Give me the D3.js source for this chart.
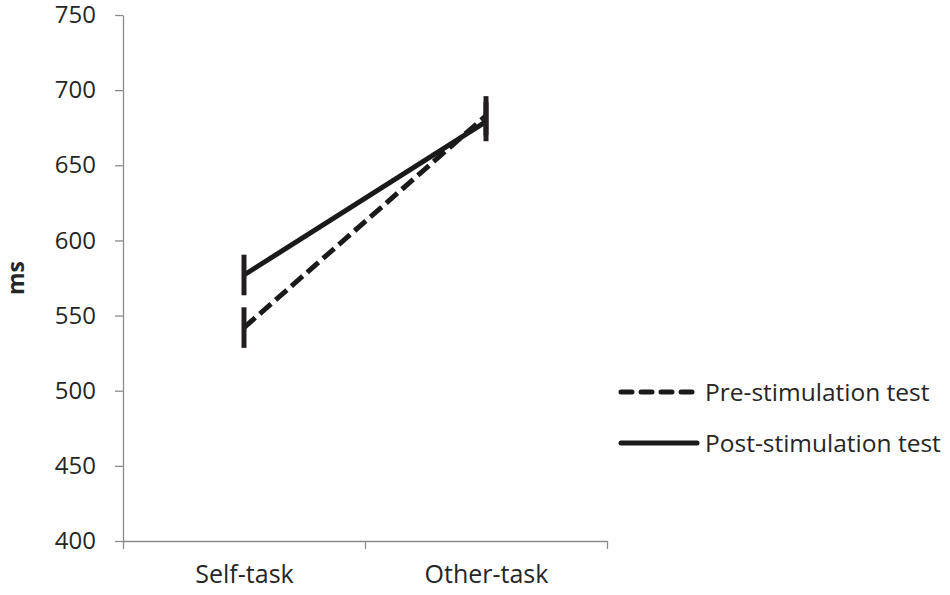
<!DOCTYPE html>
<html>
<head>
<meta charset="utf-8">
<script src="https://cdn.jsdelivr.net/npm/d3@7"></script>
<style>
  html, body { margin: 0; padding: 0; background: #fff; overflow: hidden; }
  svg { display: block; }
  text { font-family: "Open Sans", sans-serif; fill: #262626; }
</style>
</head>
<body>
<div id="svg-container"></div>
<script>
// Data
const tasks = ["Self-task", "Other-task"];
const seriesNames = ["Pre-stimulation test", "Post-stimulation test"];
const preValues = [542, 683];
const postValues = [577, 679];
const preErrors = [13.5, 13];
const postErrors = [13.5, 13];
const yTicks = [400, 450, 500, 550, 600, 650, 700, 750];

const width = 950;
const height = 595;
const margins = { top: 15, right: 343, bottom: 54, left: 123 };
const innerWidth = width - margins.left - margins.right;
const innerHeight = height - margins.top - margins.bottom;

const series = [
  { name: seriesNames[0], values: preValues, errors: preErrors, dash: "15,6" },
  { name: seriesNames[1], values: postValues, errors: postErrors, dash: null }
];

const svg = d3.select("#svg-container")
  .append("svg")
    .attr("width", width)
    .attr("height", height);

const mainG = svg.append("g")
  .attr("transform", `translate(${margins.left}, ${margins.top})`);

// Scales
const xScale = d3.scalePoint()
  .domain(tasks)
  .range([0, innerWidth])
  .padding(0.5);

const xEdges = d3.scaleLinear()
  .domain([0, tasks.length])
  .range([0, innerWidth]);

const yScale = d3.scaleLinear()
  .domain([400, 750])
  .range([innerHeight, 0]);

const axisColor = "#8c8c8c";

// y axis
const yAxis = mainG.append("g")
  .call(d3.axisLeft(yScale).tickValues(yTicks).tickSize(8).tickPadding(19).tickSizeOuter(0));
yAxis.select(".domain").attr("stroke", axisColor).attr("stroke-width", 1.3);
yAxis.selectAll(".tick line").attr("stroke", axisColor).attr("stroke-width", 1.3);
yAxis.selectAll(".tick text")
  .style("font-size", "24px")
  .attr("fill", "#262626")
  .attr("font-family", "Open Sans, sans-serif");

// x axis: boundary ticks between categories
const xAxis = mainG.append("g")
  .attr("transform", `translate(0, ${innerHeight})`)
  .call(d3.axisBottom(xEdges).tickValues(d3.range(tasks.length + 1)).tickSize(8).tickSizeOuter(0));
xAxis.selectAll(".tick text").remove();
xAxis.select(".domain").attr("stroke", axisColor).attr("stroke-width", 1.3);
xAxis.selectAll(".tick line").attr("stroke", axisColor).attr("stroke-width", 1.3);

// x axis: category labels
const xLabels = mainG.append("g")
  .attr("transform", `translate(0, ${innerHeight})`)
  .call(d3.axisBottom(xScale).tickSize(0).tickPadding(24));
xLabels.select(".domain").remove();
xLabels.selectAll(".tick text")
  .style("font-size", "25px")
  .attr("fill", "#262626")
  .attr("font-family", "Open Sans, sans-serif");

// y axis title
svg.append("text")
  .attr("transform", `translate(24, ${margins.top + yScale(575)}) rotate(-90)`)
  .attr("text-anchor", "middle")
  .style("font-size", "23px")
  .style("font-weight", "bold")
  .text("ms");

// Lines
const line = d3.line()
  .x((d, i) => xScale(tasks[i]))
  .y(d => yScale(d));

mainG.selectAll(".series-line")
  .data(series)
  .enter()
  .append("path")
    .attr("class", "series-line")
    .attr("d", d => line(d.values))
    .attr("fill", "none")
    .attr("stroke", "#1a1a1a")
    .attr("stroke-width", 5)
    .attr("stroke-dasharray", d => d.dash);

// Error bars (vertical only)
const errData = [];
series.forEach(s => {
  s.values.forEach((v, i) => errData.push({ task: tasks[i], value: v, err: s.errors[i] }));
});

mainG.selectAll(".err")
  .data(errData)
  .enter()
  .append("line")
    .attr("class", "err")
    .attr("x1", d => xScale(d.task))
    .attr("x2", d => xScale(d.task))
    .attr("y1", d => yScale(d.value + d.err))
    .attr("y2", d => yScale(d.value - d.err))
    .attr("stroke", "#231f20")
    .attr("stroke-width", 5);

// Legend
const legend = svg.append("g")
  .attr("transform", "translate(621, 392)");

const legendItems = legend.selectAll(".legend-item")
  .data(series)
  .enter()
  .append("g")
    .attr("class", "legend-item")
    .attr("transform", (d, i) => `translate(0, ${i * 51})`);

legendItems.append("line")
  .attr("x1", 0)
  .attr("x2", 76)
  .attr("stroke", "#1a1a1a")
  .attr("stroke-width", 5)
  .attr("stroke-linecap", "round")
  .attr("stroke-dasharray", d => d.dash ? "11,9" : null);

legendItems.append("text")
  .attr("x", 84)
  .attr("y", 9)
  .style("font-size", "24.5px")
  .text(d => d.name);
</script>
</body>
</html>
